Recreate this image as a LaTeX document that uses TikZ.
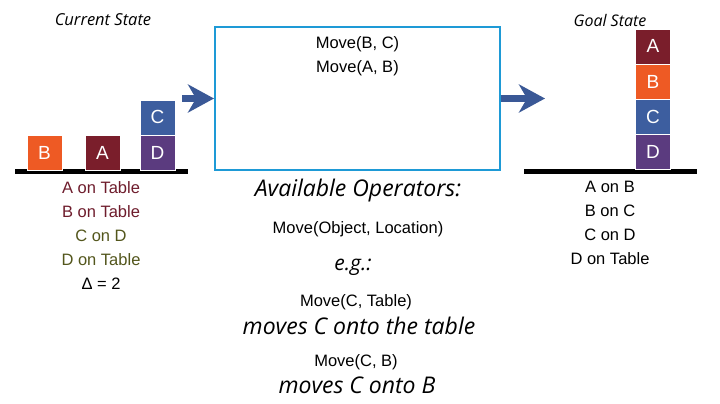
\documentclass[tikz,border=0pt]{standalone}
\usepackage{fontspec}
\setmainfont{Liberation Sans}
\newfontfamily\handfont{Open Sans}
\usetikzlibrary{arrows.meta}
\usetikzlibrary{positioning}

\definecolor{blkorange}{HTML}{EE5A24}
\definecolor{blkred}{HTML}{7A1E2B}
\definecolor{blkblue}{HTML}{3D5E9F}
\definecolor{blkpurple}{HTML}{5B3B7F}
\definecolor{planblue}{HTML}{1E9AD6}
\definecolor{arrowblue}{HTML}{3A5896}
\definecolor{listred}{HTML}{6E1C2C}
\definecolor{listolive}{HTML}{53561C}

\tikzset{
  blk/.style={rectangle,draw=white,very thin,minimum size=35pt,inner sep=0pt,text=white,font=\fontsize{19}{20}\selectfont},
  tableline/.style={line width=5pt,black},
  flow/.style={arrowblue,line width=7pt,-{Stealth[length=26pt,width=28pt,inset=8pt]}},
  hand/.style={font=\handfont\itshape\fontsize{#1}{#1}\selectfont},
  plain/.style={font=\fontsize{16.5}{24}\selectfont,align=center,inner sep=0pt}
}

\begin{document}
\begin{tikzpicture}[x=1pt,y=-1pt]
\useasboundingbox[fill=white] (0,0) rectangle (720,404);

% current state
\node[hand=16.5] (curlabel) at (103,20) {Current State};
\draw[tableline] (15,171) -- (188,171);
\node[blk,fill=blkorange] (curB) at (44.5,152.5) {B};
\node[blk,fill=blkred] (curA) at (102.5,152.5) {A};
\node[blk,fill=blkpurple] (curD) at (157.5,152.5) {D};
\node[blk,fill=blkblue,above=0pt of curD] (curC) {C};
\node[plain,anchor=north] (curlist) at (101,181) {{\color{listred}A on Table}\\{\color{listred}B on Table}\\{\color{listolive}C on D}\\{\color{listolive}D on Table}\\Δ = 2};

% plan box
\node[draw=planblue,line width=2pt,minimum width=285pt,minimum height=143pt] (plan) at (357.5,98.5) {};
\node[plain,below=10pt of plan.north] (plansteps) {Move(B, C)\\Move(A, B)};
\coordinate (curout) at (182,98.5);
\coordinate (goalin) at (545,98.5);
\draw[flow] (curout) -- (plan);
\draw[flow] (plan) -- (goalin);

% goal state
\node[hand=16] (goallabel) at (610,21) {Goal State};
\draw[tableline] (524,171) -- (697,171);
\node[blk,fill=blkpurple] (goalD) at (653,152) {D};
\node[blk,fill=blkblue,above=0pt of goalD] (goalC) {C};
\node[blk,fill=blkorange,above=0pt of goalC] (goalB) {B};
\node[blk,fill=blkred,above=0pt of goalB] (goalA) {A};
\node[plain,anchor=north] (goallist) at (610,181) {A on B\\B on C\\C on D\\D on Table};

% operators
\node[hand=23] (opstitle) at (358,191) {Available Operators:};
\node[plain] (opsform) at (358,229) {Move(Object, Location)};
\node[hand=21] (egtitle) at (353,267) {e.g.:};
\node[plain] (exone) at (356,302) {Move(C, Table)};
\node[hand=23] (exonetext) at (359,326) {moves C onto the table};
\node[plain] (extwo) at (356,362) {Move(C, B)};
\node[hand=23] (extwotext) at (357,385) {moves C onto B};

\end{tikzpicture}
\end{document}
